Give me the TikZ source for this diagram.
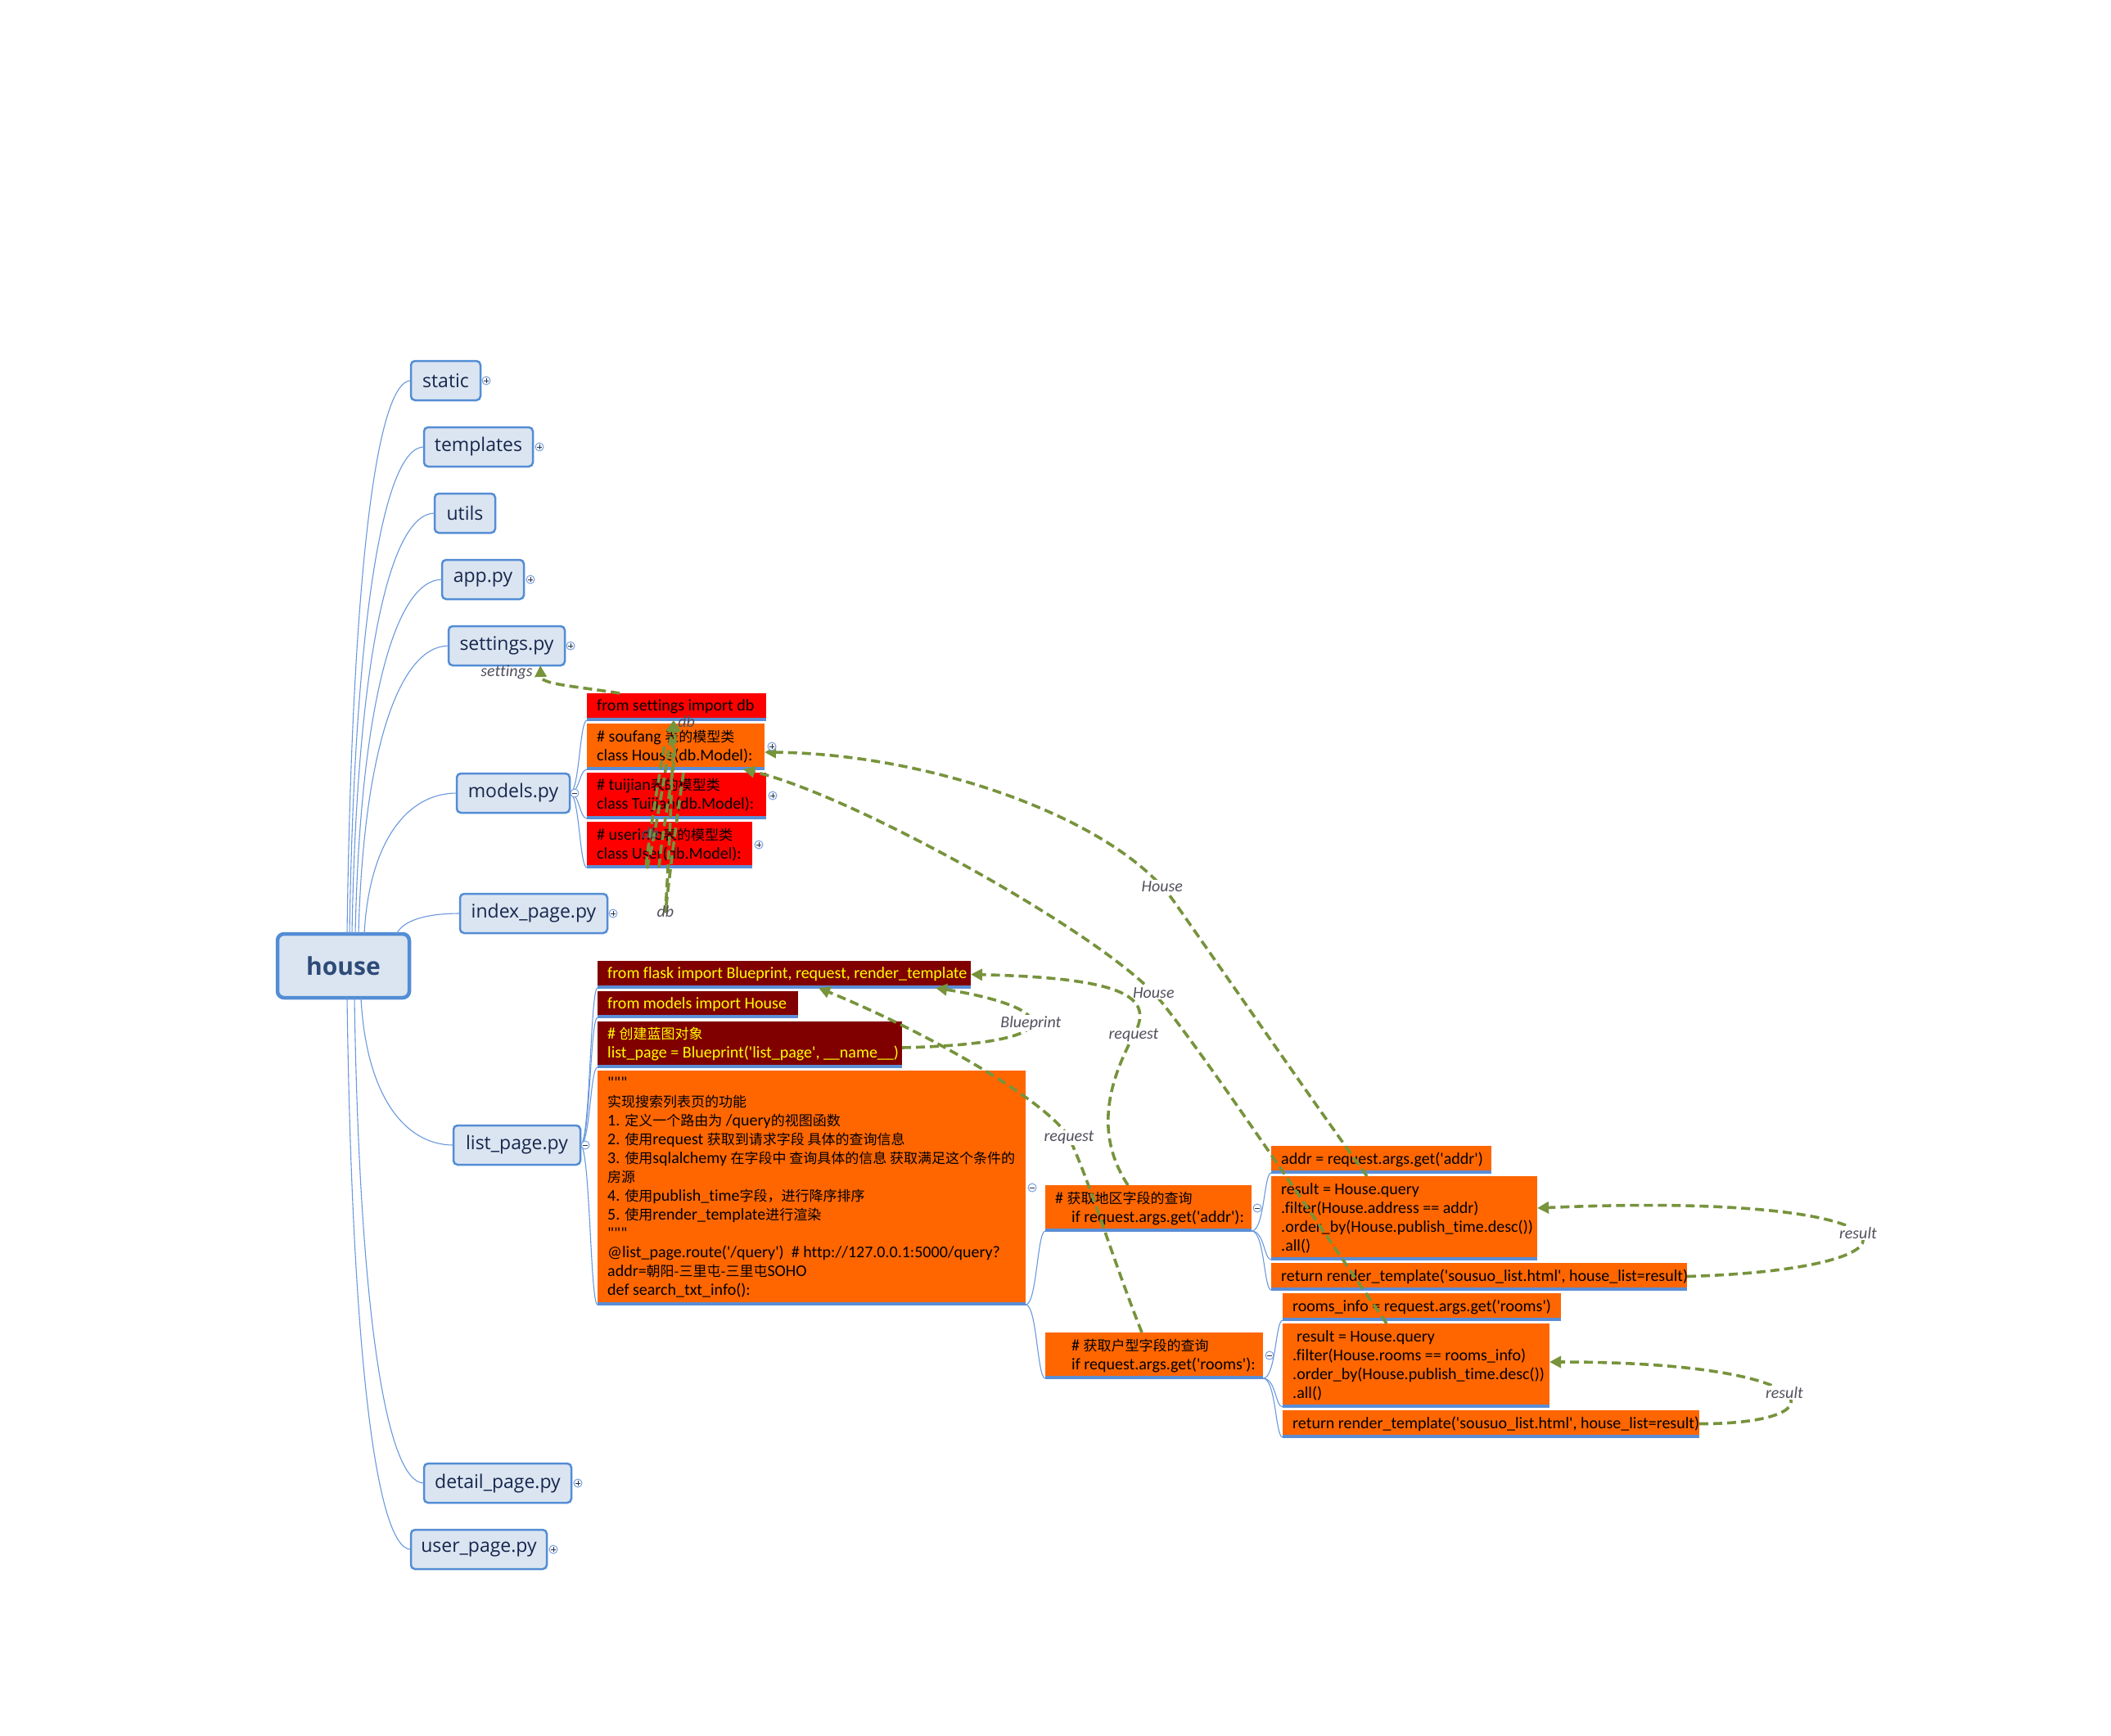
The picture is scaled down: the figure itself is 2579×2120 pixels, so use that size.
\documentclass[tikz,border=0pt]{standalone}
\usepackage{fontspec}
\usetikzlibrary{arrows.meta,calc}
\newfontfamily\codefont{Carlito}[Ligatures=CommonOff]
\newfontfamily\cjkfont{Noto Sans CJK SC}
\newfontfamily\topicfont{Open Sans}
\newcommand\zh[1]{{\cjkfont\fontsize{17}{23}\selectfont #1}}
\definecolor{cred}{RGB}{255,0,0}
\definecolor{corange}{RGB}{255,102,0}
\definecolor{cdark}{RGB}{128,0,0}
\definecolor{cyel}{RGB}{255,255,0}
\definecolor{ulcol}{RGB}{91,141,213}
\definecolor{topicfill}{RGB}{219,229,241}
\definecolor{topicdraw}{RGB}{83,141,213}
\definecolor{topictext}{RGB}{23,38,77}
\definecolor{housetext}{RGB}{46,75,120}
\definecolor{conncol}{RGB}{105,152,222}
\definecolor{relcol}{RGB}{119,147,60}
\definecolor{lblcol}{RGB}{80,80,92}
\definecolor{iconcol}{RGB}{120,160,220}
\definecolor{icontext}{RGB}{40,45,70}
\tikzset{
  topicbox/.style={draw=topicdraw, fill=topicfill, line width=2.5pt, rounded corners=5pt,
    inner sep=0pt, outer sep=0pt, font=\topicfont\fontsize{23}{27}\selectfont, text=topictext},
  housebox/.style={topicbox, line width=4.5pt, rounded corners=8pt,
    font=\topicfont\bfseries\fontsize{30}{34}\selectfont, text=housetext},
  cboxshape/.style={inner sep=0pt, outer sep=0pt,
    path picture={\draw[ulcol, line width=6pt] (path picture bounding box.south west) -- (path picture bounding box.south east);}},
  ctext/.style={font=\codefont\fontsize{20}{23}\selectfont, align=left, inner sep=0pt},
  conn/.style={draw=conncol, line width=1.1pt},
  relarrow/.style={draw=relcol, line width=3.6pt, dash pattern=on 11pt off 6pt,
    -{Triangle[length=14pt,width=14pt]}},
  lbl/.style={font=\codefont\itshape\fontsize{20}{24}\selectfont, text=lblcol, inner sep=1.5pt},
  wlbl/.style={lbl, fill=white},
  iconbase/.style={circle, draw=iconcol, fill=white, line width=1pt, minimum size=10pt, inner sep=0pt},
  picon/.style={iconbase, path picture={\draw[icontext, line width=1pt]
     ([xshift=-3pt]path picture bounding box.center) -- ([xshift=3pt]path picture bounding box.center)
     ([yshift=-3pt]path picture bounding box.center) -- ([yshift=3pt]path picture bounding box.center);}},
  micon/.style={iconbase, path picture={\draw[icontext, line width=1pt]
     ([xshift=-3pt]path picture bounding box.center) -- ([xshift=3pt]path picture bounding box.center);}},
}
% name, x1, y1, x2, y2, text
\newcommand\mktopic[6]{%
  \node[topicbox, minimum width={#4-#2}, minimum height={#5-#3}, anchor=north west] (#1) at (#2,#3) {#6};}
% name, x1, y1, x2, y2, fill, text colour, text
\newcommand\mkcode[8]{%
  \node[cboxshape, fill=#6, minimum width={#4-#2}, minimum height={#5-#3}, anchor=north west] (#1) at (#2,#3) {};
  \node[ctext, text=#7, anchor=west] (#1-t) at ([xshift=12pt]#1.west) {#8};}
\begin{document}
\begin{tikzpicture}[x=1pt,y=-1pt]
\fill[white] (0,0) rectangle (2579,2120);
\useasboundingbox (0,0) rectangle (2579,2120);

% ---------- topics ----------
\node[housebox, minimum width=161pt, minimum height=78pt, anchor=north west] (house) at (339,1141) {house};
\mktopic{static}{502}{441}{587}{489}{static}
\mktopic{templates}{518}{522}{651}{570}{templates}
\mktopic{utils}{531}{603}{605}{651}{utils}
\mktopic{app}{540}{684}{640}{732}{app.py}
\mktopic{settings}{548}{765}{690}{813}{settings.py}
\mktopic{models}{558}{945}{696}{993}{models.py}
\mktopic{index}{562}{1092}{742}{1140}{index\_page.py}
\mktopic{listp}{554}{1375}{709}{1423}{list\_page.py}
\mktopic{detail}{518}{1788}{698}{1836}{detail\_page.py}
\mktopic{user}{502}{1869}{668}{1917}{user\_page.py}

% ---------- code boxes ----------
\mkcode{sdb}{717}{847}{936}{880}{cred}{black}{from settings import db}
\mkcode{souf}{717}{884}{934}{940}{corange}{black}{\# soufang \zh{表的模型类}\\class House(db.Model):}
\mkcode{tuij}{717}{944}{936}{1000}{cred}{black}{\# tuijian\zh{表的模型类}\\class Tuijian(db.Model):}
\mkcode{usr}{717}{1004}{919}{1060}{cred}{black}{\# userinfo\zh{表的模型类}\\class User(db.Model):}
\mkcode{flask}{730}{1174}{1186}{1207}{cdark}{cyel}{from flask import Blueprint, request, render\_template}
\mkcode{mimp}{730}{1211}{975}{1243}{cdark}{cyel}{from models import House}
\mkcode{bp}{730}{1248}{1102}{1304}{cdark}{cyel}{\# \zh{创建蓝图对象}\\list\_page = Blueprint('list\_page', \_\_name\_\_)}
\mkcode{big}{730}{1308}{1253}{1594}{corange}{black}{"""\\
\zh{实现搜索列表页的功能}\\
1. \zh{定义一个路由为} /query\zh{的视图函数}\\
2. \zh{使用}request \zh{获取到请求字段 具体的查询信息}\\
3. \zh{使用}sqlalchemy \zh{在字段中 查询具体的信息 获取满足这个条件的}\\
\zh{房源}\\
4. \zh{使用}publish\_time\zh{字段，进行降序排序}\\
5. \zh{使用}render\_template\zh{进行渲染}\\
"""\\
@list\_page.route('/query')\ \ \# http://127.0.0.1:5000/query?\\
addr=\zh{朝阳-三里屯-三里屯}SOHO\\
def search\_txt\_info():}
\mkcode{addrc}{1277}{1448}{1529}{1504}{corange}{black}{\# \zh{获取地区字段的查询}\\\hspace*{20pt}if request.args.get('addr'):}
\mkcode{roomc}{1277}{1628}{1543}{1684}{corange}{black}{\hspace*{20pt}\# \zh{获取户型字段的查询}\\\hspace*{20pt}if request.args.get('rooms'):}
\mkcode{addr}{1553}{1400}{1822}{1433}{corange}{black}{addr = request.args.get('addr')}
\mkcode{res1}{1553}{1437}{1878}{1539}{corange}{black}{result = House.query\\.filter(House.address == addr)\\.order\_by(House.publish\_time.desc())\\.all()}
\mkcode{ret1}{1553}{1543}{2061}{1576}{corange}{black}{return render\_template('sousuo\_list.html', house\_list=result)}
\mkcode{rinfo}{1567}{1580}{1907}{1613}{corange}{black}{rooms\_info = request.args.get('rooms')}
\mkcode{res2}{1567}{1617}{1893}{1719}{corange}{black}{\hspace*{5pt}result = House.query\\.filter(House.rooms == rooms\_info)\\.order\_by(House.publish\_time.desc())\\.all()}
\mkcode{ret2}{1567}{1723}{2076}{1756}{corange}{black}{return render\_template('sousuo\_list.html', house\_list=result)}

% ---------- tree connectors ----------
\draw[conn] ([xshift=4.5pt]house.north) .. controls +(6,-439) and +(-42,0) .. (static.west);
\draw[conn] ([xshift=7.5pt]house.north) .. controls +(6,-387) and +(-49,0) .. (templates.west);
\draw[conn] ([xshift=10.5pt]house.north) .. controls +(6,-334) and +(-55,0) .. (utils.west);
\draw[conn] ([xshift=14.5pt]house.north) .. controls +(6,-281) and +(-57,0) .. (app.west);
\draw[conn] ([xshift=18.5pt]house.north) .. controls +(6,-229) and +(-59,0) .. (settings.west);
\draw[conn] ([xshift=25.5pt]house.north) .. controls +(6,-112) and +(-61,0) .. (models.west);
\draw[conn] ([xshift=65pt]house.north) .. controls +(8,-17) and +(-40,0) .. (index.west);
\draw[conn] ([xshift=21.5pt]house.south) .. controls +(6,117) and +(-61,0) .. (listp.west);
\draw[conn] ([xshift=13.5pt]house.south) .. controls +(6,385) and +(-46,0) .. (detail.west);
\draw[conn] ([xshift=4.5pt]house.south) .. controls +(6,438) and +(-42,0) .. (user.west);

\foreach \c in {sdb,souf,tuij,usr}
  \draw[conn] (models.east) .. controls +(12,0) and +(-9,0) .. (\c.south west);
\foreach \c in {flask,mimp,bp,big}
  \draw[conn] (listp.east) .. controls +(12,0) and +(-9,0) .. (\c.south west);
\foreach \c in {addrc,roomc}
  \draw[conn] (big.south east) .. controls +(14,0) and +(-10,0) .. (\c.south west);
\foreach \c in {addr,res1,ret1}
  \draw[conn] (addrc.south east) .. controls +(16,0) and +(-9,0) .. (\c.south west);
\foreach \c in {rinfo,res2,ret2}
  \draw[conn] (roomc.south east) .. controls +(16,0) and +(-9,0) .. (\c.south west);

% ---------- relationship arrows ----------
\draw[relarrow] ([xshift=40pt]sdb.north west) .. controls (700,838) and (661,836) .. ([xshift=41pt]settings.south)
  node[lbl, at end, anchor=east, xshift=-6pt, yshift=-8pt] {settings};
\draw[relarrow] ([xshift=-14pt]souf.center) .. controls (776,1120) and (786,1110) .. ([xshift=106pt]sdb.south west)
  node[lbl, pos=0.22] {db};
\draw[relarrow] ([xshift=118pt]tuij.north west) .. controls (800,1185) and (815,1175) .. ([xshift=106pt]sdb.south west)
  node[lbl, pos=0.44] {db};
\draw[relarrow] ([xshift=88pt]usr.south west) .. controls (812,990) and (828,930) .. ([xshift=106pt]sdb.south west)
  node[lbl, at end, anchor=west, xshift=2pt, yshift=-2pt] {db};

\draw[relarrow] ([xshift=117pt]res1.north west) .. controls (1600,1340) and (1500,1195) .. (1434,1101)
  .. controls (1364,1002) and (1140,921) .. ([yshift=-7pt]souf.east) node[wlbl, pos=0.06] {House};
\draw[relarrow] ([xshift=127pt]res2.north west) .. controls (1620,1510) and (1480,1300) .. (1418,1223)
  .. controls (1356,1146) and (1040,970) .. ([xshift=-26pt]souf.south east) node[wlbl, pos=0.04] {House};

\draw[relarrow] ([xshift=101pt]addrc.north west) .. controls (1340,1390) and (1350,1330) .. (1385,1265)
  node[wlbl] {request} .. controls (1410,1220) and (1380,1195) .. (flask.east);
\draw[relarrow] ([xshift=118pt]roomc.north west) .. controls (1360,1540) and (1330,1440) .. (1306,1390)
  node[wlbl] {request} .. controls (1280,1345) and (1130,1260) .. ([xshift=270pt]flask.south west);
\draw[relarrow] ([yshift=-4pt]bp.east) .. controls (1320,1275) and (1290,1230) .. ([xshift=413pt]flask.south west)
  node[wlbl, pos=0.5] {Blueprint};

\draw[relarrow] (ret1.east) .. controls (2385,1550) and (2355,1455) .. ([yshift=12pt]res1.east)
  node[wlbl, pos=0.5] {result};
\draw[relarrow] (ret2.east) .. controls (2255,1740) and (2235,1664) .. ([yshift=4pt]res2.east)
  node[wlbl, pos=0.5] {result};

% ---------- expand / collapse icons ----------
\node[picon] (static-i) at ([xshift=7pt]static.east) {};
\node[picon] (templates-i) at ([xshift=8pt]templates.east) {};
\node[picon] (app-i) at ([xshift=8pt]app.east) {};
\node[picon] (settings-i) at ([xshift=7pt]settings.east) {};
\node[micon] (models-i) at ([xshift=6pt]models.east) {};
\node[picon] (index-i) at ([xshift=7pt]index.east) {};
\node[micon] (listp-i) at ([xshift=6pt]listp.east) {};
\node[picon] (detail-i) at ([xshift=8pt]detail.east) {};
\node[picon] (user-i) at ([xshift=8pt]user.east) {};
\node[picon] (souf-i) at ([xshift=9pt]souf.east) {};
\node[picon] (tuij-i) at ([xshift=8pt]tuij.east) {};
\node[picon] (usr-i) at ([xshift=8pt]usr.east) {};
\node[micon] (big-i) at ([xshift=8pt]big.east) {};
\node[micon] (addrc-i) at ([xshift=7pt]addrc.east) {};
\node[micon] (roomc-i) at ([xshift=8pt]roomc.east) {};
\end{tikzpicture}
\end{document}
